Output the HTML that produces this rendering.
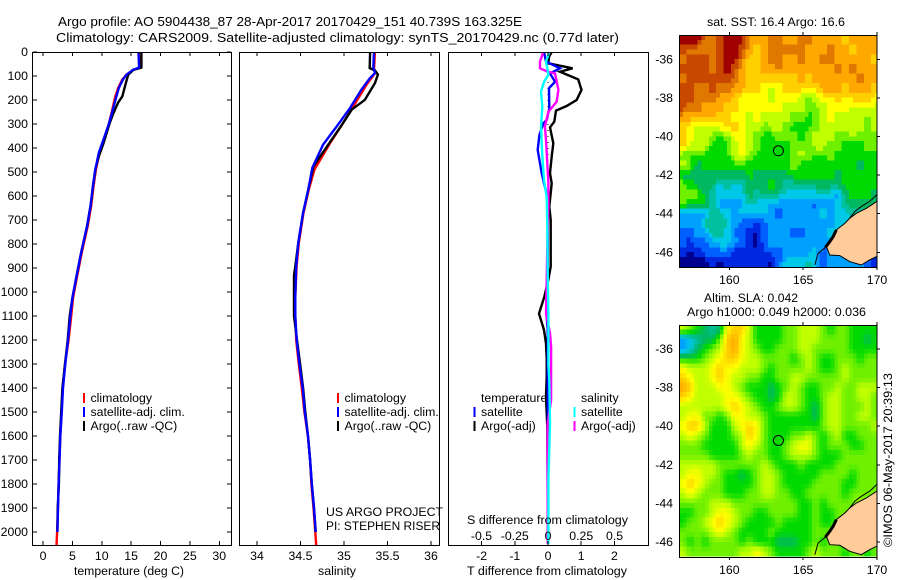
<!DOCTYPE html>
<html lang="en">
<head>
<meta charset="utf-8">
<title>Argo profile chart</title>
<style>
html,body{margin:0;padding:0;background:#fff;}
svg{display:block;}
text{font-family:"Liberation Sans",sans-serif;font-size:12.3px;fill:#000;}
text.big{font-size:13px;}
</style>
</head>
<body>
<svg id="chart" xmlns="http://www.w3.org/2000/svg" width="900" height="580" viewBox="0 0 900 580">
<defs>
<clipPath id="clip1"><rect x="680" y="35" width="197" height="232"/></clipPath>
<clipPath id="clip2"><rect x="680" y="325" width="197" height="232"/></clipPath>
<clipPath id="clipT"><rect x="33" y="52" width="198" height="493"/></clipPath>
<clipPath id="clipS"><rect x="240" y="52" width="200" height="493"/></clipPath>
<clipPath id="clipD"><rect x="449" y="52" width="199" height="493"/></clipPath>
</defs>

<text class="big" x="58" y="26" textLength="464" lengthAdjust="spacingAndGlyphs">Argo profile: AO 5904438_87 28-Apr-2017 20170429_151 40.739S 163.325E</text>
<text class="big" x="56" y="42" textLength="563" lengthAdjust="spacingAndGlyphs">Climatology: CARS2009. Satellite-adjusted climatology: synTS_20170429.nc (0.77d later)</text>

<g id="plots"></g>
<g id="maps"></g>

<text x="74" y="575" textLength="110" lengthAdjust="spacingAndGlyphs">temperature (deg C)</text>
<text x="318" y="575" textLength="38" lengthAdjust="spacingAndGlyphs">salinity</text>
<text x="467" y="575" textLength="160" lengthAdjust="spacingAndGlyphs">T difference from climatology</text>
<text x="467" y="524" textLength="161" lengthAdjust="spacingAndGlyphs">S difference from climatology</text>

<text x="326" y="516" textLength="117" lengthAdjust="spacingAndGlyphs">US ARGO PROJECT</text>
<text x="326" y="530" textLength="114" lengthAdjust="spacingAndGlyphs">PI: STEPHEN RISER</text>

<text x="707" y="26" textLength="138" lengthAdjust="spacingAndGlyphs">sat. SST: 16.4 Argo: 16.6</text>
<text x="704" y="302" textLength="94" lengthAdjust="spacingAndGlyphs">Altim. SLA: 0.042</text>
<text x="687" y="316" textLength="179" lengthAdjust="spacingAndGlyphs">Argo h1000: 0.049 h2000: 0.036</text>
<text transform="translate(892,547) rotate(-90)" textLength="174" lengthAdjust="spacingAndGlyphs">©IMOS 06-May-2017 20:39:13</text>
</svg>

<script>
// ---------- profile data ----------
const tempDepths = [0,65,74,95,115,150,185,240,300,350,420,490,560,640,725,835,935,1025,1100,1200,1300,1400,1500,1600,1700,1800,1900,2000,2055];
const tempClim   = [16.3,16.5,15.4,14.2,13.5,12.8,12.3,11.8,11.2,10.6,9.6,9.0,8.6,8.2,7.6,6.6,5.8,5.1,4.8,4.35,3.75,3.35,3.15,2.95,2.8,2.65,2.55,2.4,2.3];
const tempSat    = [16.25,16.36,15.3,14.2,13.6,12.9,12.5,11.9,11.2,10.5,9.5,8.9,8.5,8.1,7.5,6.5,5.7,5.0,4.65,4.25,3.8,3.4,3.2,2.95,2.8,2.65,2.55,2.45];
const tempArgoDepths = [0,65,74,95,130,185,210,260,300,380,435,490,560,640,725,835,935,1025,1100,1200,1300,1400,1500,1600,1700,1800,1900,2000];
const tempArgo   = [16.75,16.75,15.4,14.5,14.1,13.5,12.8,11.9,11.3,10.3,9.5,8.9,8.5,8.1,7.5,6.5,5.7,5.0,4.55,4.2,3.75,3.3,3.1,2.9,2.75,2.7,2.5,2.45];

const salDepths  = [0,65,88,108,157,233,310,386,483,573,670,795,893,1017,1100,1200,1300,1400,1500,1600,1700,1800,1900,2000];
const salSat     = [35.345,35.337,35.356,35.30,35.20,35.07,34.916,34.76,34.636,34.59,34.53,34.475,34.45,34.44,34.44,34.456,34.487,34.525,34.55,34.586,34.61,34.63,34.655,34.675];
const salClimDepths = [0,73,88,136,219,296,379,490,573,670,795,893,1017,1100,1200,1300,1400,1500,1600,1700,1800,1900,2000,2055];
const salClim    = [35.355,35.345,35.356,35.26,35.12,34.99,34.84,34.66,34.595,34.535,34.48,34.455,34.44,34.44,34.45,34.48,34.515,34.545,34.585,34.61,34.625,34.65,34.67,34.68];
const salArgoDepths = [0,67,77,94,129,199,240,317,386,476,573,670,795,893,930,1100,1200,1300,1400,1500,1600,1700,1800,1900,2000];
const salArgo    = [35.30,35.295,35.356,35.39,35.356,35.24,35.09,34.95,34.82,34.65,34.59,34.53,34.475,34.44,34.425,34.425,34.46,34.495,34.53,34.555,34.586,34.61,34.63,34.655,34.675];

const diffTBlackDepths = [0,20,47,68,82,114,158,200,225,244,290,314,380,436,505,547,644,700,894,950,1020,1090,1158,1214,1276,1350,1436,1506,1560,2050];
const diffTBlack = [.11,.03,.01,.74,.36,.91,1.01,.86,.56,.24,.19,.06,.16,.11,.06,.11,.04,.08,.08,.01,-.11,-.27,-.12,-.06,-.04,-.04,-.06,-.04,-.02,0];
const diffTBlueDepths = [0,40,68,89,124,151,235,283,297,346,408,464,505,547,589,650,1000,1090,1150,2050];
const diffTBlue  = [-.12,-.06,.36,.06,.21,.03,.04,-.04,-.14,-.26,-.31,-.24,-.19,-.12,-.04,-.01,-.01,-.05,-.01,0];
const diffSPinkDepths = [0,40,68,82,89,158,207,249,311,367,464,547,644,811,950,1090,1172,1228,1450,1550,2050];
const diffSPink  = [-.035,-.06,-.06,0,.053,.078,.065,.003,-.023,-.015,-.005,.003,.003,-.005,-.01,-.015,.015,.023,.023,-.003,-.002];
const diffSCyanDepths = [0,40,89,96,124,165,228,311,436,533,606,717,925,1090,1300,1370,1550,1780,2050];
const diffSCyan  = [.01,-.015,.0025,.0025,-.03,-.053,-.043,-.053,-.043,-.03,-.01,-.005,-.0025,.003,.003,.01,.015,.003,.003];

const depthTicks = [0,100,200,300,400,500,600,700,800,900,1000,1100,1200,1300,1400,1500,1600,1700,1800,1900,2000];
const tempTicks  = [0,5,10,15,20,25,30];
const salTicks   = [34,34.5,35,35.5,36];
const diffTTicks = [-2,-1,0,1,2];
const diffSTicks = [-0.5,-0.25,0,0.25,0.5];
const lonTicks   = [160,165,170];
const latTicks   = [-36,-38,-40,-42,-44,-46];

// ---------- map data: colour level per 0.5 degree cell, north to south ----------
const sstRow00 = [15,15,15,13,13,14,15,15,15,12,12,12,13,13,12,12,13,13,12,12,12,12,11,12,12,12,12];
const sstRow01 = [14,13,13,13,13,14,15,15,14,12,11,12,13,13,13,13,13,12,12,12,13,12,12,11,12,12,12];
const sstRow02 = [13,14,14,14,13,14,15,15,13,11,11,12,13,13,12,12,13,12,12,13,13,12,12,12,12,12,11];
const sstRow03 = [14,14,14,14,13,14,15,14,12,11,11,12,12,13,12,12,12,12,12,12,12,13,12,13,12,12,12];
const sstRow04 = [13,14,14,14,14,14,14,13,12,11,11,11,11,11,11,11,12,11,12,12,12,12,12,12,13,12,12];
const sstRow05 = [14,14,13,13,14,13,13,12,12,11,11,10,9,10,11,11,11,11,11,12,12,12,11,12,12,12,11];
const sstRow06 = [14,14,13,13,13,12,12,11,10,10,10,10,8,10,10,10,9,8,9,10,10,11,10,11,11,11,10];
const sstRow07 = [14,13,13,12,12,12,11,11,10,10,10,10,10,10,9,9,9,8,8,9,10,10,10,9,9,10,9];
const sstRow08 = [12,12,12,12,12,11,11,10,10,9,10,9,9,9,9,8,8,7,8,9,10,9,9,9,9,8,9];
const sstRow09 = [11,10,9,9,10,10,11,11,10,9,9,8,9,9,8,7,7,7,8,9,9,9,9,9,9,8,9];
const sstRow10 = [11,10,9,9,8,7,8,10,10,9,8,7,7,8,8,8,7,8,9,9,9,8,8,9,8,8,8];
const sstRow11 = [11,9,9,9,7,7,7,9,10,9,8,7,7,7,7,8,8,8,9,9,8,8,7,7,7,8,8];
const sstRow12 = [8,7,7,7,7,7,7,9,10,8,7,7,7,7,7,8,9,8,7,7,8,7,7,7,7,7,7];
const sstRow13 = [9,8,6,7,7,7,7,7,7,7,7,7,7,7,7,9,7,7,7,7,7,7,7,7,6,7,7];
const sstRow14 = [6,6,6,6,6,6,6,6,6,7,6,6,6,6,6,7,7,7,7,7,7,6,7,7,7,7,7];
const sstRow15 = [8,7,6,6,6,4,5,4,4,6,6,6,7,6,5,5,5,5,6,6,6,6,7,7,7,7,7];
const sstRow16 = [8,8,8,6,5,4,4,4,4,6,5,6,6,5,4,4,4,4,4,4,4,3,6,7,7,7,6];
const sstRow17 = [8,7,7,7,5,3,3,3,3,5,4,4,3,3,3,3,3,3,2,3,3,4,5,6,6,6,6];
const sstRow18 = [3,3,3,3,5,5,4,3,4,3,4,4,3,2,3,3,3,3,3,4,3,4,4,5,5,5,5];
const sstRow19 = [3,3,3,5,5,5,5,3,2,2,1,2,3,3,3,3,3,3,3,3,3,4,4,4,4,4,4];
const sstRow20 = [2,2,3,3,5,5,4,2,2,1,0,2,3,3,3,2,1,3,3,3,4,4,4,4,4,4,4];
const sstRow21 = [2,1,2,2,3,4,4,3,2,1,0,2,3,3,3,3,3,3,3,3,3,3,3,3,3,3,3];
const sstRow22 = [1,0,1,2,2,2,2,1,1,1,1,1,2,2,3,3,3,3,4,2,3,3,3,3,3,3,1];
const sstRow23 = [0,0,0,0,1,0,1,1,1,1,1,1,0,2,4,4,4,5,4,1,3,3,3,3,3,2,1];
const sstGrid = [sstRow00,sstRow01,sstRow02,sstRow03,sstRow04,sstRow05,sstRow06,sstRow07,sstRow08,sstRow09,sstRow10,sstRow11,sstRow12,sstRow13,sstRow14,sstRow15,sstRow16,sstRow17,sstRow18,sstRow19,sstRow20,sstRow21,sstRow22,sstRow23];

const slaRow00 = [9,8,7,6,5,6,10,11,11,9,7,7,7,7,8,8,9,9,9,8,7,8,8,7,7,7,7];
const slaRow01 = [3,4,5,6,6,8,11,12,10,9,7,7,7,7,8,8,9,9,9,8,8,8,8,7,7,6,7];
const slaRow02 = [3,4,6,7,8,9,11,12,10,9,8,7,7,8,8,8,9,9,8,8,8,8,8,7,7,7,7];
const slaRow03 = [7,7,7,8,9,10,11,11,10,9,9,8,8,8,8,7,8,9,8,7,7,8,8,8,7,8,8];
const slaRow04 = [10,9,9,9,10,11,10,10,9,9,9,8,7,8,8,8,8,9,8,7,7,8,9,8,8,8,8];
const slaRow05 = [11,10,9,9,10,11,10,9,9,8,8,7,7,8,8,9,9,8,8,8,8,8,9,8,8,8,8];
const slaRow06 = [12,11,9,9,9,10,10,9,8,7,7,7,6,7,8,9,8,7,7,8,8,9,8,8,9,9,9];
const slaRow07 = [11,10,9,9,9,9,10,10,9,8,7,7,6,7,9,9,8,7,7,8,9,9,8,8,9,9,8];
const slaRow08 = [9,9,9,9,9,9,10,11,10,9,8,7,7,8,9,9,8,7,6,8,9,9,8,8,8,9,8];
const slaRow09 = [9,10,10,8,8,7,8,10,10,9,9,8,7,7,7,7,7,7,6,8,9,9,8,8,9,9,8];
const slaRow10 = [10,11,11,9,7,7,7,9,10,11,10,8,7,7,7,7,7,7,7,8,9,9,8,8,8,8,9];
const slaRow11 = [9,10,9,8,7,7,7,8,9,11,10,8,7,7,7,8,8,9,8,7,8,9,7,7,8,8,8];
const slaRow12 = [8,8,8,7,7,7,7,7,9,10,9,8,7,7,8,9,10,10,8,7,8,8,8,7,7,8,8];
const slaRow13 = [8,8,8,8,7,7,7,7,8,9,8,8,7,7,8,9,9,9,8,7,7,7,8,8,8,8,8];
const slaRow14 = [9,9,9,9,9,8,8,8,8,8,8,9,8,7,7,7,8,7,7,7,7,8,8,8,8,8,8];
const slaRow15 = [9,10,10,9,9,8,7,7,6,7,8,9,9,8,7,7,7,7,7,8,8,8,8,7,8,8,8];
const slaRow16 = [10,11,10,9,8,8,7,7,7,7,8,9,9,8,7,7,7,7,8,8,8,8,7,7,8,8,8];
const slaRow17 = [9,10,9,8,8,8,7,7,7,8,8,9,9,8,8,7,7,8,8,8,8,8,7,8,8,8,8];
const slaRow18 = [8,8,8,8,9,9,9,8,8,8,8,8,8,8,8,8,7,7,8,7,8,8,8,8,9,8,8];
const slaRow19 = [7,7,8,8,9,10,10,9,8,8,7,7,8,8,8,8,7,7,8,7,7,8,8,8,8,8,8];
const slaRow20 = [7,8,8,9,10,11,10,9,8,7,7,7,7,8,7,7,7,7,8,7,7,8,8,8,8,8,8];
const slaRow21 = [8,8,8,8,9,10,9,8,7,7,7,7,8,7,7,7,7,7,8,8,8,8,8,8,8,8,8];
const slaRow22 = [8,7,8,7,8,8,8,8,7,8,7,7,7,6,6,6,7,7,8,7,8,8,8,8,8,8,8];
const slaRow23 = [9,8,8,8,8,8,8,8,9,9,10,9,8,7,7,7,7,8,9,8,8,8,7,8,8,7,8];
const slaGrid = [slaRow00,slaRow01,slaRow02,slaRow03,slaRow04,slaRow05,slaRow06,slaRow07,slaRow08,slaRow09,slaRow10,slaRow11,slaRow12,slaRow13,slaRow14,slaRow15,slaRow16,slaRow17,slaRow18,slaRow19,slaRow20,slaRow21,slaRow22,slaRow23];

const landLons = [170.3,169.98,169.28,168.60,168.15,167.82,167.25,167.03,166.58,166.80,167.48,168.15,168.94,169.50,169.98,170.3];
const landLats = [-43.37,-43.37,-43.72,-43.98,-44.24,-44.50,-44.84,-45.19,-45.71,-46.14,-46.17,-46.48,-46.66,-46.40,-46.22,-46.22];
const shelfLons = [170.1,169.5,168.94,168.49,168.15];
const shelfLats = [-42.94,-43.37,-43.63,-43.89,-44.24];
const fiordLons = [165.79,166.01,166.58];
const fiordLats = [-46.66,-46.05,-45.71];
const clusterLons = [166.5,166.8,167.03,167.25];
const clusterLats = [-45.75,-45.45,-45.19,-44.84];
const argoLon = 163.325;
const argoLat = -40.739;

// ---------- palette ----------
const levelRGB = [[0,0,143],[0,40,224],[0,96,255],[0,160,255],[0,200,232],[0,192,160],[0,184,96],[0,218,0],[110,240,0],[192,255,0],[255,255,0],[255,208,0],[255,168,0],[224,120,0],[200,72,0],[160,0,0]];

// ---------- axis functions ----------
const SVGNS = 'http://www.w3.org/2000/svg';
const plots = document.getElementById('plots');
const maps = document.getElementById('maps');
const yDepth = d => 52 + d * 0.24;
const xTemp = v => 43 + v * 5.875;
const xSal = v => 257 + (v - 34) * 87;
const xDT = v => 548 + v * 33.2;
const xDS = v => 548 + v * 133;
const xLon = lon => 729.3 + (lon - 160) * 14.77;
const yLat1 = lat => 59.3 + (-36 - lat) * 19.3;
const yLat2 = lat => 349 + (-36 - lat) * 19.3;

function mk(tag, parent) {
  const el = document.createElementNS(SVGNS, tag);
  parent.appendChild(el);
  return el;
}
function setAll(el, attrs) {
  for (const k in attrs) el.setAttribute(k, attrs[k]);
  return el;
}
function addText(parent, str, x, y, anchor) {
  const t = mk('text', parent);
  setAll(t, {x: x, y: y, 'text-anchor': anchor || 'start'});
  t.textContent = str;
  return t;
}
function addTick(parent, x1, y1, x2, y2) {
  const l = mk('line', parent);
  setAll(l, {x1: x1, y1: y1, x2: x2, y2: y2, stroke: '#000', 'stroke-width': 1, 'shape-rendering': 'crispEdges'});
  
  
  return l;
}
function addFrame(parent, x, y, w, h) {
  const r = mk('rect', parent);
  setAll(r, {x: x, y: y, width: w, height: h, fill: 'none', stroke: '#000', 'stroke-width': 1, 'shape-rendering': 'crispEdges'});
  
  
  return r;
}
function addProfile(parent, xs, ys, xFn, color, clip) {
  const p = mk('polyline', parent);
  const n = Math.min(xs.length, ys.length);
  let pts = '';
  for (let i = 0; i < n; i++) pts += xFn(xs[i]).toFixed(1) + ',' + yDepth(ys[i]).toFixed(1) + ' ';
  setAll(p, {points: pts, fill: 'none', stroke: color, 'stroke-width': 2.4, 'clip-path': 'url(#' + clip + ')'});
  return p;
}
function addLegendMark(parent, x, y, color) {
  const r = mk('rect', parent);
  setAll(r, {x: x, y: y, width: 2, height: 10, fill: color, 'shape-rendering': 'crispEdges'});
  
  
  return r;
}

// ---------- temperature panel ----------
const tempG = mk('g', plots);


let ln;
ln = addProfile(tempG, tempClim, tempDepths, xTemp, '#ff0000', 'clipT');


ln = addProfile(tempG, tempArgo, tempArgoDepths, xTemp, '#000000', 'clipT');


ln = addProfile(tempG, tempSat, tempDepths, xTemp, '#0000ff', 'clipT');


addFrame(tempG, 32.5, 52.5, 199, 493);
tempTicks.forEach(v => {
  addTick(tempG, xTemp(v), 52, xTemp(v), 56);
  addTick(tempG, xTemp(v), 541, xTemp(v), 545);
  const t = addText(tempG, String(v), xTemp(v), 560, 'middle');
  
  
});
depthTicks.forEach(d => {
  addTick(tempG, 33, yDepth(d), 37, yDepth(d));
  addTick(tempG, 227, yDepth(d), 231, yDepth(d));
  const t = addText(tempG, String(d), 28, yDepth(d) + 4, 'end');
  
  
});
const legendLabels = ['climatology', 'satellite-adj. clim.', 'Argo(..raw -QC)'];
const legendColors = ['#ff0000', '#0000ff', '#000000'];
[[83, 90.5], [337, 344.5]].forEach(pos => {
  legendLabels.forEach((s, i) => {
    addLegendMark(tempG, pos[0], 393 + i * 14, legendColors[i]);
    const t = addText(tempG, s, pos[1], 402 + i * 14);
    
    
  });
});

// ---------- salinity panel ----------
const salG = mk('g', plots);


ln = addProfile(salG, salClim, salClimDepths, xSal, '#ff0000', 'clipS');


ln = addProfile(salG, salArgo, salArgoDepths, xSal, '#000000', 'clipS');


ln = addProfile(salG, salSat, salDepths, xSal, '#0000ff', 'clipS');


addFrame(salG, 239.5, 52.5, 200, 493);
salTicks.forEach(v => {
  addTick(salG, xSal(v), 52, xSal(v), 56);
  addTick(salG, xSal(v), 541, xSal(v), 545);
  const t = addText(salG, String(v), xSal(v), 560, 'middle');
  
  
});

// ---------- difference panel ----------
const diffG = mk('g', plots);


const zeroLine = mk('line', diffG);
setAll(zeroLine, {x1: xDT(0), y1: 52, x2: xDT(0), y2: 545, stroke: '#000', 'stroke-width': 1, 'stroke-dasharray': '1 5', 'shape-rendering': 'crispEdges'});


ln = addProfile(diffG, diffTBlack, diffTBlackDepths, xDT, '#000000', 'clipD');


ln = addProfile(diffG, diffTBlue, diffTBlueDepths, xDT, '#0000ff', 'clipD');


ln = addProfile(diffG, diffSPink, diffSPinkDepths, xDS, '#ff00ff', 'clipD');


ln = addProfile(diffG, diffSCyan, diffSCyanDepths, xDS, '#00ffff', 'clipD');


addFrame(diffG, 448.5, 52.5, 200, 493);
diffTTicks.forEach(v => {
  addTick(diffG, xDT(v), 52, xDT(v), 56);
  addTick(diffG, xDT(v), 541, xDT(v), 545);
  const t = addText(diffG, String(v), xDT(v), 560, 'middle');
  
  
});
diffSTicks.forEach(v => {
  const t = addText(diffG, String(v), xDS(v), 540, 'middle');
  
  
});
const diffLegendCols = [
  {mark: 473.5, text: 481, head: 'temperature', colors: ['#0000ff', '#000000']},
  {mark: 573.5, text: 581, head: 'salinity', colors: ['#00ffff', '#ff00ff']}
];
const diffLegendLabels = ['satellite', 'Argo(-adj)'];
diffLegendCols.forEach(col => {
  const h = addText(diffG, col.head, col.text, 402);
  
  
  diffLegendLabels.forEach((s, i) => {
    addLegendMark(diffG, col.mark, 407 + i * 14, col.colors[i]);
    const t = addText(diffG, s, col.text, 416 + i * 14);
    
    
  });
});

// ---------- maps ----------
function sampleGrid(grid, gx, gy) {
  const rows = grid.length, cols = grid[0].length;
  const cx = Math.max(0, Math.min(cols - 1, gx)), cy = Math.max(0, Math.min(rows - 1, gy));
  const x0 = Math.floor(cx), y0 = Math.floor(cy);
  const x1 = Math.min(cols - 1, x0 + 1), y1 = Math.min(rows - 1, y0 + 1);
  const fx = cx - x0, fy = cy - y0;
  const top = grid[y0][x0] * (1 - fx) + grid[y0][x1] * fx;
  const bot = grid[y1][x0] * (1 - fx) + grid[y1][x1] * fx;
  return top * (1 - fy) + bot * fy;
}
function levelColor(v) {
  const i = Math.max(0, Math.min(levelRGB.length - 2, Math.floor(v)));
  const f = Math.max(0, Math.min(1, v - i));
  const a = levelRGB[i], b = levelRGB[i + 1];
  return 'rgb(' + Math.round(a[0] + (b[0] - a[0]) * f) + ',' + Math.round(a[1] + (b[1] - a[1]) * f) + ',' + Math.round(a[2] + (b[2] - a[2]) * f) + ')';
}
function drawMap(grid, yLat, clipId, top, bottom, groupName, quantize) {
  const g = mk('g', maps);
  
  
  const inner = mk('g', g);
  inner.setAttribute('clip-path', 'url(#' + clipId + ')');
  const nx = grid[0].length * 2, ny = grid.length * 2;
  for (let j = 0; j < ny; j++) {
    for (let i = 0; i < nx; i++) {
      const raw = sampleGrid(grid, (i + 0.5) / 2 - 0.5, (j + 0.5) / 2 - 0.5);
      const v = quantize ? Math.round(raw) : raw;
      const cell = mk('rect', inner);
      setAll(cell, {x: xLon(156.61 + i * 0.25).toFixed(2), y: yLat(-34.74 - j * 0.25).toFixed(2), width: 3.9, height: 5, fill: levelColor(v), 'shape-rendering': 'crispEdges'});
      
      
    }
  }
  const toPts = (lons, lats) => lons.map((lon, i) => xLon(lon).toFixed(1) + ',' + yLat(lats[i]).toFixed(1)).join(' ');
  const land = mk('polygon', inner);
  setAll(land, {points: toPts(landLons, landLats), fill: '#ffcc99', stroke: '#000', 'stroke-width': 1});
  
  
  const shelf = mk('polyline', inner);
  setAll(shelf, {points: toPts(shelfLons, shelfLats), fill: 'none', stroke: '#000', 'stroke-width': 1});
  
  
  const fiord = mk('polyline', inner);
  setAll(fiord, {points: toPts(fiordLons, fiordLats), fill: 'none', stroke: '#000', 'stroke-width': 1});
  
  
  const cluster = mk('polyline', inner);
  setAll(cluster, {points: toPts(clusterLons, clusterLats), fill: 'none', stroke: '#000', 'stroke-width': 3});
  
  
  const circle = mk('circle', inner);
  setAll(circle, {cx: xLon(argoLon), cy: yLat(argoLat), r: 5, fill: 'none', stroke: '#000', 'stroke-width': 1});
  
  
  addFrame(g, 679.5, top + 0.5, 197.5, bottom - top);
  lonTicks.forEach(lon => {
    addTick(g, xLon(lon), top - 3, xLon(lon), top);
    addTick(g, xLon(lon), bottom, xLon(lon), bottom + 3);
    const t = addText(g, String(lon), xLon(lon), bottom + 17, 'middle');
    
    
  });
  latTicks.forEach(lat => {
    addTick(g, 877, yLat(lat), 880, yLat(lat));
    const t = addText(g, String(lat), 673, yLat(lat) + 4, 'end');
    
    
  });
}
drawMap(sstGrid, yLat1, 'clip1', 35, 267, 'sst-map', true);
drawMap(slaGrid, yLat2, 'clip2', 325, 557, 'sla-map', false);
</script>
</body>
</html>
